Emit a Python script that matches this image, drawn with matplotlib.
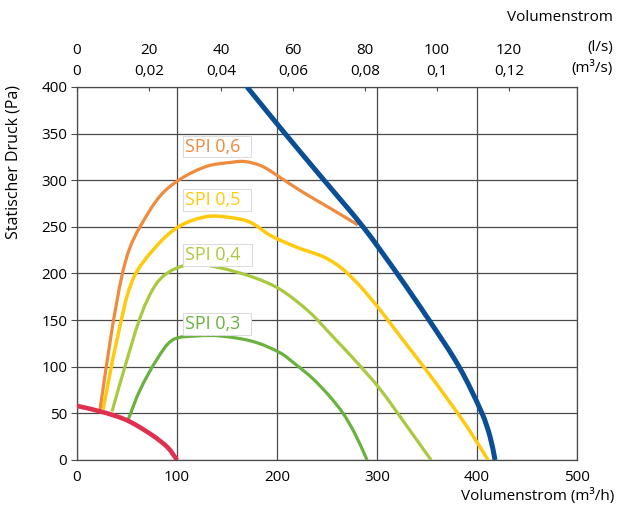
import matplotlib
matplotlib.use("Agg")
import math
import matplotlib.pyplot as plt
from matplotlib.path import Path
from matplotlib.patches import PathPatch

plt.rcParams['font.family'] = ['Open Sans', 'DejaVu Sans']

# curves (x in m3/h, y in Pa)
blue_x = [170, 208, 247, 286, 320, 352, 382, 405, 413, 418]
blue_y = [400, 350, 300, 250, 200, 150, 100, 50, 25, 0]

red_x = [0, 27, 51, 76, 91, 100]
red_y = [58, 51, 42, 26, 13, 0]

spi6_x = [23, 35, 45, 53, 63, 83, 103, 130, 153, 168, 185, 203, 226, 253, 281]
spi6_y = [54, 140, 198, 228, 250, 283, 301, 315, 319, 320, 315, 303, 287, 270, 252]

spi5_x = [26, 40, 56, 80, 103, 130, 153, 173, 193, 220, 246, 263, 280, 293, 303, 325, 348, 370, 391, 411]
spi5_y = [54, 129, 194, 230, 251, 261, 260, 255, 241, 228, 218, 207, 190, 174, 161, 130, 98, 66, 34, 0]

spi4_x = [35, 49, 65, 80, 96, 117, 143, 176, 203, 233, 256, 277, 303, 330, 354]
spi4_y = [52, 104, 158, 190, 204, 210, 206, 196, 183, 158, 132, 108, 76, 36, 0]

spi3_x = [51, 63, 80, 96, 120, 143, 176, 203, 218, 235, 252, 266, 278, 290]
spi3_y = [43, 75, 108, 129, 133, 133, 127, 115, 103, 88, 69, 50, 28, 0]

spi_labels = ['SPI 0,6', 'SPI 0,5', 'SPI 0,4', 'SPI 0,3']
spi_label_y = [336, 279, 220, 146]
spi_colors = ['#f08a3c', '#ffc90e', '#a9c93f', '#6ab23e']

ls_ticks = [0, 20, 40, 60, 80, 100, 120]
m3s_labels = ['0', '0,02', '0,04', '0,06', '0,08', '0,1', '0,12']


def smooth_curve(ax, xs, ys, **kw):
    # smooth line through the read points, chord-length Catmull-Rom as Bezier segments
    pts = list(zip(xs, ys))
    n = len(pts)
    d = [math.dist(pts[i], pts[i + 1]) for i in range(n - 1)]
    tang = []
    for i in range(n):
        if i == 0:
            tang.append(((pts[1][0] - pts[0][0]) / d[0], (pts[1][1] - pts[0][1]) / d[0]))
        elif i == n - 1:
            tang.append(((pts[i][0] - pts[i - 1][0]) / d[i - 1], (pts[i][1] - pts[i - 1][1]) / d[i - 1]))
        else:
            s = d[i - 1] + d[i]
            tang.append(((pts[i + 1][0] - pts[i - 1][0]) / s, (pts[i + 1][1] - pts[i - 1][1]) / s))
    verts = [pts[0]]
    codes = [Path.MOVETO]
    for i in range(n - 1):
        h = d[i] / 3
        c1 = (pts[i][0] + tang[i][0] * h, pts[i][1] + tang[i][1] * h)
        c2 = (pts[i + 1][0] - tang[i + 1][0] * h, pts[i + 1][1] - tang[i + 1][1] * h)
        verts += [c1, c2, pts[i + 1]]
        codes += [Path.CURVE4] * 3
    ax.add_patch(PathPatch(Path(verts, codes), fill=False, capstyle='butt', **kw))


fig = plt.figure(figsize=(6.37, 5.12), dpi=100)
ax = fig.add_axes([0.1209, 0.1016, 0.785, 0.7286])

grid_c = '#4a4a4a'
ax.set_xlim(0, 500)
ax.set_ylim(0, 400)
ax.set_xticks(range(0, 501, 100))
ax.set_yticks(range(0, 401, 50))
ax.grid(True, color=grid_c, lw=0.9)
for s in ['left', 'right', 'top', 'bottom']:
    ax.spines[s].set_color(grid_c)
    ax.spines[s].set_linewidth(0.9)
ax.tick_params(axis='both', labelsize=11, color=grid_c, length=4, pad=3)
ax.tick_params(axis='x', length=0, pad=7)

smooth_curve(ax, red_x, red_y, ec='#e0304f', lw=3.3, zorder=4)
smooth_curve(ax, spi3_x, spi3_y, ec=spi_colors[3], lw=2.3, zorder=3)
smooth_curve(ax, spi4_x, spi4_y, ec=spi_colors[2], lw=2.3, zorder=3)
smooth_curve(ax, spi5_x, spi5_y, ec=spi_colors[1], lw=2.5, zorder=3)
smooth_curve(ax, spi6_x, spi6_y, ec=spi_colors[0], lw=2.3, zorder=3)
smooth_curve(ax, blue_x, blue_y, ec='#0a4f95', lw=3.6, zorder=5)

for lab, yy, c in zip(spi_labels, spi_label_y, spi_colors):
    ax.text(108, yy, lab + '  ', color=c, fontsize=13, va='center', ha='left', zorder=6,
            bbox=dict(boxstyle='square,pad=0.1', fc='white', ec='#dcdcdc', lw=0.8))

sec = ax.secondary_xaxis('top', functions=(lambda x: x / 3.6, lambda x: x * 3.6))
sec.set_xticks(ls_ticks)
sec.set_xticklabels([f'{a}\n{b}' for a, b in zip(ls_ticks, m3s_labels)], fontsize=11, linespacing=1.5)
sec.tick_params(axis='x', direction='in', length=3, color=grid_c, pad=6)
sec.spines['top'].set_visible(False)

ax.set_ylabel('Statischer Druck (Pa)', fontsize=11.5)
ax.yaxis.set_label_coords(-0.112, 0.80)
fig.text(0.965, 0.031, 'Volumenstrom (m³/h)', ha='right', va='center', fontsize=11)
fig.text(0.962, 0.965, 'Volumenstrom', ha='right', va='center', fontsize=11)
fig.text(0.962, 0.908, '(l/s)', ha='right', va='center', fontsize=11)
fig.text(0.962, 0.867, '(m³/s)', ha='right', va='center', fontsize=11)

fig.savefig('out.png', dpi=100)
